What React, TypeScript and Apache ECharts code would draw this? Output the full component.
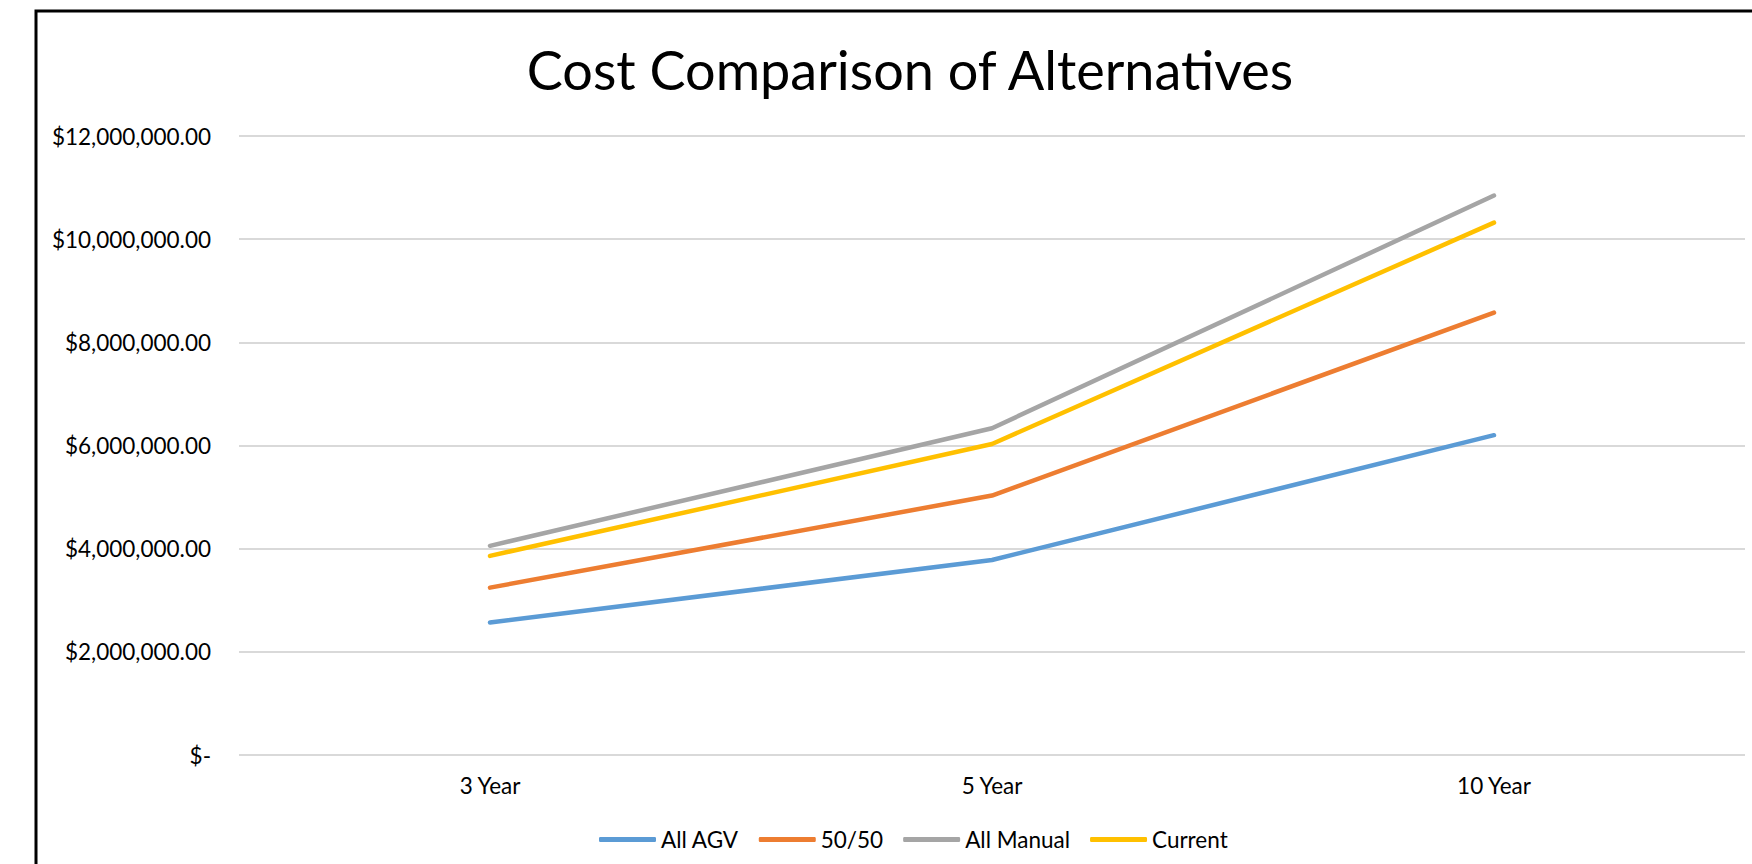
import React, { useEffect, useRef } from "react";
import * as echarts from "echarts";

const categories = ["3 Year", "5 Year", "10 Year"];
const allAGV = [2570000, 3780000, 6200000];
const fiftyFifty = [3245000, 5030000, 8575000];
const allManual = [4055000, 6335000, 10845000];
const current = [3860000, 6030000, 10320000];
const seriesNames = ["All AGV", "50/50", "All Manual", "Current"];
const colors = ["#5B9BD5", "#ED7D31", "#A5A5A5", "#FFC000"];
const yTicks = { min: 0, max: 12000000, interval: 2000000 };

const FONT = "Lato";

function fmt(v: number): string {
  if (v === 0) return "$-";
  return "$" + v.toLocaleString("en-US", { minimumFractionDigits: 2, maximumFractionDigits: 2 });
}

export default function App() {
  const ref = useRef<HTMLDivElement>(null);
  useEffect(() => {
    if (!ref.current) return;
    const chart = echarts.init(ref.current, undefined, { renderer: "svg" });
    const data = [allAGV, fiftyFifty, allManual, current];
    chart.setOption({
      animation: false,
      backgroundColor: "#ffffff",
      title: {
        text: "Cost Comparison of Alternatives",
        left: 905,
        top: 37,
        textAlign: "center",
        textStyle: { fontFamily: FONT, fontSize: 54, fontWeight: "normal", color: "#000000" },
      },
      graphic: [
        {
          type: "rect",
          shape: { x: 36, y: 11, width: 1800, height: 900 },
          style: { fill: "none", stroke: "#000000", lineWidth: 3 },
          silent: true,
        },
      ],
      grid: { left: 239, right: 7, top: 136, bottom: 109, containLabel: false },
      legend: {
        left: 594,
        top: 823,
        itemWidth: 57,
        itemHeight: 5,
        itemGap: 20,
        icon: "roundRect",
        data: seriesNames,
        textStyle: { fontFamily: FONT, fontSize: 22.5, color: "#000000" },
      },
      xAxis: {
        type: "category",
        data: categories,
        boundaryGap: true,
        axisLine: { show: false },
        axisTick: { show: false },
        axisLabel: { fontFamily: FONT, fontSize: 22.5, color: "#000000", margin: 19 },
      },
      yAxis: {
        type: "value",
        min: yTicks.min,
        max: yTicks.max,
        interval: yTicks.interval,
        axisLine: { show: false },
        axisTick: { show: false },
        splitLine: { lineStyle: { color: "#D9D9D9", width: 2 } },
        axisLabel: { fontFamily: FONT, fontSize: 22.5, color: "#000000", margin: 28, formatter: (v: number) => fmt(v) },
      },
      series: seriesNames.map((name, i) => ({
        name,
        type: "line",
        data: data[i],
        color: colors[i],
        symbol: "none",
        showSymbol: false,
        lineStyle: { width: 4.5, color: colors[i], cap: "round", join: "round" },
        itemStyle: { color: colors[i] },
      })),
    });
    return () => chart.dispose();
  }, []);
  return (
    <div
      ref={ref}
      style={{ position: "absolute", left: 0, top: 0, width: 1752, height: 864 }}
    />
  );
}
